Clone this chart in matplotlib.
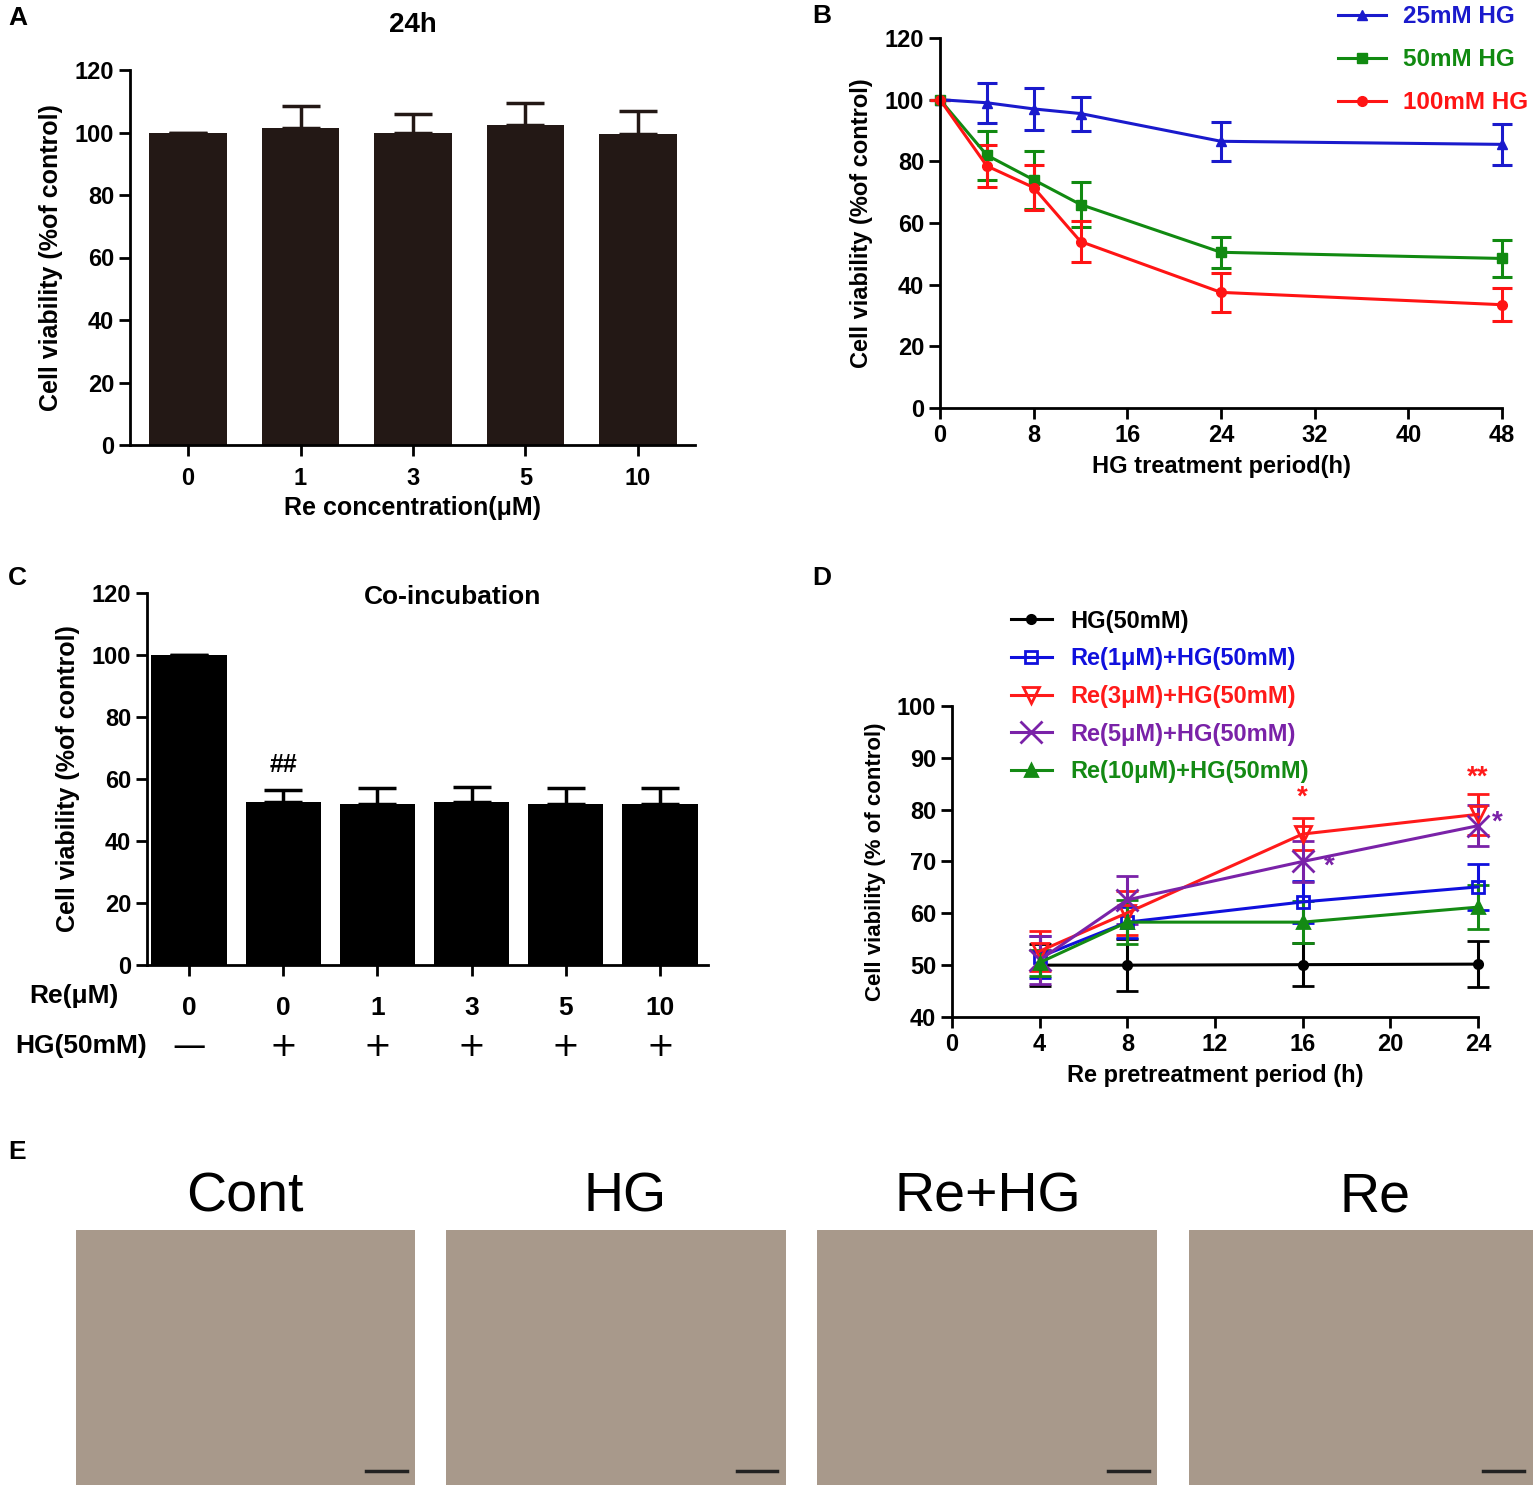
import matplotlib
matplotlib.use("Agg")
import matplotlib.pyplot as plt
from matplotlib.patches import Rectangle
from matplotlib.lines import Line2D

plt.rcParams['font.family'] = ['Liberation Sans', 'DejaVu Sans']
plt.rcParams['font.weight'] = 'bold'
plt.rcParams['axes.linewidth'] = 2.0

# ---- panel A data ----
a_conc = ["0", "1", "3", "5", "10"]
a_mean = [100, 101.5, 100, 102.5, 99.5]
a_err = [0, 7, 6, 7, 7.5]

# ---- panel B data ----
b_time = [0, 4, 8, 12, 24, 48]
b_25 = [100, 99, 97, 95.5, 86.5, 85.5]
b_25_err = [0, 6.5, 6.8, 5.5, 6.3, 6.6]
b_50 = [100, 82, 74, 66, 50.5, 48.5]
b_50_err = [0, 8, 9.5, 7.2, 5, 6]
b_100 = [100, 78.5, 71.5, 54, 37.5, 33.5]
b_100_err = [0, 6.7, 7.3, 6.5, 6.4, 5.4]

# ---- panel C data ----
c_re = ["0", "0", "1", "3", "5", "10"]
c_hg = ["\u2014", "+", "+", "+", "+", "+"]
c_mean = [100, 52.5, 52, 52.5, 52, 52]
c_err = [0, 4, 5, 5, 5, 5]

# ---- panel D data ----
d_time = [4, 8, 16, 24]
d_hg = [50, 50, 50.1, 50.2]
d_hg_err = [4, 5, 4.2, 4.4]
d_re1 = [51.6, 58.3, 62.2, 65.1]
d_re1_err = [4, 3, 4, 4.5]
d_re3 = [52.7, 60.1, 75.3, 79.1]
d_re3_err = [3.9, 4.2, 3, 4]
d_re5 = [51, 62.6, 70, 76.9]
d_re5_err = [4.6, 4.6, 4, 4]
d_re10 = [50.5, 58.3, 58.3, 61.2]
d_re10_err = [2.5, 4.3, 4, 4.2]

e_titles = ["Cont", "HG", "Re+HG", "Re"]

W, H = 1537, 1488
fig = plt.figure(figsize=(W / 100, H / 100), dpi=100)


def box(l, t, r, b):
    return [l / W, 1 - b / H, (r - l) / W, (b - t) / H]


def style(ax):
    for s in ['top', 'right']:
        ax.spines[s].set_visible(False)
    ax.tick_params(direction='out', length=8, width=2, labelsize=17)
    for lab in ax.get_xticklabels() + ax.get_yticklabels():
        lab.set_fontweight('bold')


# ---------------- A ----------------
axA = fig.add_axes(box(130, 70, 695, 445))
xa = range(len(a_conc))
axA.bar(xa, a_mean, width=0.69, color='#231815', zorder=2)
axA.errorbar(xa, a_mean, yerr=[[0] * 5, a_err], fmt='none', ecolor='#231815',
             elinewidth=2.5, capsize=14, capthick=2.5, zorder=1)
axA.set_xlim(-0.516, 4.507)
axA.set_ylim(0, 120)
axA.set_yticks(range(0, 121, 20))
axA.set_xticks(list(xa))
axA.set_xticklabels(a_conc)
axA.tick_params(axis='x', length=0, pad=8)
axA.set_xlabel("Re concentration(\u03bcM)", fontsize=18, fontweight='bold', labelpad=4)
axA.set_ylabel("Cell viability (%of control)", fontsize=18, fontweight='bold', labelpad=8)
style(axA)
fig.text(413 / W, 1 - 25 / H, "24h", fontsize=20, fontweight='bold', ha='center', va='center')

# ---------------- B ----------------
axB = fig.add_axes(box(940, 38, 1502, 408))
series_b = [(b_25, b_25_err, '#1a1acc', '^', '25mM HG'),
            (b_50, b_50_err, '#118a11', 's', '50mM HG'),
            (b_100, b_100_err, '#ff1414', 'o', '100mM HG')]
handles_b = []
for vals, err, col, mk, lab in series_b:
    axB.errorbar(b_time, vals, yerr=err, color=col, marker=mk, markersize=7,
                 linewidth=2.2, elinewidth=2.2, capsize=7, capthick=2.2,
                 clip_on=False)
    handles_b.append(Line2D([], [], color=col, marker=mk, markersize=7,
                            linewidth=2.2, label=lab))
axB.set_xlim(0, 48)
axB.set_ylim(0, 120)
axB.set_xticks(range(0, 49, 8))
axB.set_yticks(range(0, 121, 20))
axB.set_xlabel("HG treatment period(h)", fontsize=17, fontweight='bold', labelpad=6)
axB.set_ylabel("Cell viability (%of control)", fontsize=17, fontweight='bold', labelpad=8)
style(axB)
axB.legend(handles=handles_b, loc='upper left', bbox_to_anchor=(0.69, 1.115),
           frameon=False, labelcolor='linecolor', handlelength=2.0,
           handletextpad=0.7, labelspacing=0.82, borderaxespad=0,
           prop={'weight': 'bold', 'size': 17.5})

# ---------------- C ----------------
axC = fig.add_axes(box(147, 593, 708, 965))
xc = range(len(c_re))
axC.bar(xc, c_mean, width=0.8, color='black', zorder=2)
axC.errorbar(xc, c_mean, yerr=[[0] * 6, c_err], fmt='none', ecolor='black',
             elinewidth=2.5, capsize=14, capthick=2.5, zorder=1)
axC.set_xlim(-0.446, 5.51)
axC.set_ylim(0, 120)
axC.set_yticks(range(0, 121, 20))
axC.set_xticks(list(xc))
axC.set_xticklabels(c_re)
axC.tick_params(axis='x', length=0, pad=14)
axC.set_ylabel("Cell viability (%of control)", fontsize=18, fontweight='bold', labelpad=8)
style(axC)
for lab in axC.get_xticklabels():
    lab.set_fontsize(19)
for i, s in enumerate(c_hg):
    axC.text(i, -0.218, s, transform=axC.get_xaxis_transform(), ha='center', va='center',
             fontsize=24, fontweight='normal', family='DejaVu Sans')
axC.text(-0.05, -0.083, "Re(\u03bcM)", transform=axC.transAxes, ha='right', va='center',
         fontsize=19, fontweight='bold')
axC.text(0.0, -0.218, "HG(50mM)", transform=axC.transAxes, ha='right', va='center',
         fontsize=19, fontweight='bold')
axC.text(1.0, 60.5, "##", fontsize=18, fontweight='bold', ha='center', va='bottom')
axC.text(0.545, 0.99, "Co-incubation", transform=axC.transAxes, fontsize=19,
         fontweight='bold', ha='center', va='center')

# ---------------- D ----------------
axD = fig.add_axes(box(952, 706, 1478, 1017))
series_d = [(d_hg, d_hg_err, 'black', 'o', 'black', 6, 'HG(50mM)'),
            (d_re1, d_re1_err, '#1010dd', 's', 'none', 8, 'Re(1\u03bcM)+HG(50mM)'),
            (d_re3, d_re3_err, '#ff1a1a', 'v', 'none', 11, 'Re(3\u03bcM)+HG(50mM)'),
            (d_re5, d_re5_err, '#7a22a8', 'x', '#7a22a8', 16, 'Re(5\u03bcM)+HG(50mM)'),
            (d_re10, d_re10_err, '#148a14', '^', '#148a14', 9, 'Re(10\u03bcM)+HG(50mM)')]
handles_d = []
for vals, err, col, mk, mfc, ms, lab in series_d:
    axD.errorbar(d_time, vals, yerr=err, color=col, marker=mk, markersize=ms,
                 markerfacecolor=mfc, markeredgewidth=2, linewidth=2.2,
                 elinewidth=2.2, capsize=8, capthick=2.2, clip_on=False)
    handles_d.append(Line2D([], [], color=col, marker=mk, markersize=ms,
                            markerfacecolor=mfc, markeredgewidth=2,
                            linewidth=2.2, label=lab))
axD.set_xlim(0, 24)
axD.set_ylim(40, 100)
axD.set_xticks(range(0, 25, 4))
axD.set_yticks(range(40, 101, 10))
axD.set_xlabel("Re pretreatment period (h)", fontsize=17, fontweight='bold', labelpad=6)
axD.set_ylabel("Cell viability (% of control)", fontsize=16, fontweight='bold', labelpad=8)
style(axD)
axD.legend(handles=handles_d, loc='upper left', bbox_to_anchor=(0.095, 1.34),
           frameon=False, labelcolor='linecolor', handlelength=1.7,
           handletextpad=0.8, labelspacing=0.62, borderaxespad=0,
           prop={'weight': 'bold', 'size': 17})
axD.text(16, 79.8, "*", color='#ff1a1a', fontsize=20, ha='center', va='bottom')
axD.text(24, 83.6, "**", color='#ff1a1a', fontsize=20, ha='center', va='bottom')
axD.text(17.2, 66.5, "*", color='#7a22a8', fontsize=20, ha='center', va='bottom')
axD.text(24.9, 75.0, "*", color='#7a22a8', fontsize=20, ha='center', va='bottom')

# ---------------- E ----------------
e_boxes = [(76, 415), (446, 786), (817, 1157), (1189, 1533)]
e_title_x = [245, 625, 988, 1375]
for (l, r), tx, ttl in zip(e_boxes, e_title_x, e_titles):
    axE = fig.add_axes(box(l, 1230, r, 1485))
    axE.set_xlim(0, 1)
    axE.set_ylim(0, 1)
    axE.add_patch(Rectangle((0, 0), 1, 1, color='#a8998b'))
    axE.plot([0.855, 0.975], [0.055, 0.055], color='#222222', linewidth=2.5)
    axE.axis('off')
    fig.text(tx / W, 1 - 1197 / H, ttl, fontsize=40, fontweight='normal',
             ha='center', va='center')

# panel letters
for lab, x, y in [("A", 8, 18), ("B", 812, 16), ("C", 8, 578), ("D", 812, 578), ("E", 8, 1152)]:
    fig.text(x / W, 1 - y / H, lab, fontsize=19, fontweight='heavy',
             ha='left', va='center')

fig.savefig("out.png", dpi=100)
